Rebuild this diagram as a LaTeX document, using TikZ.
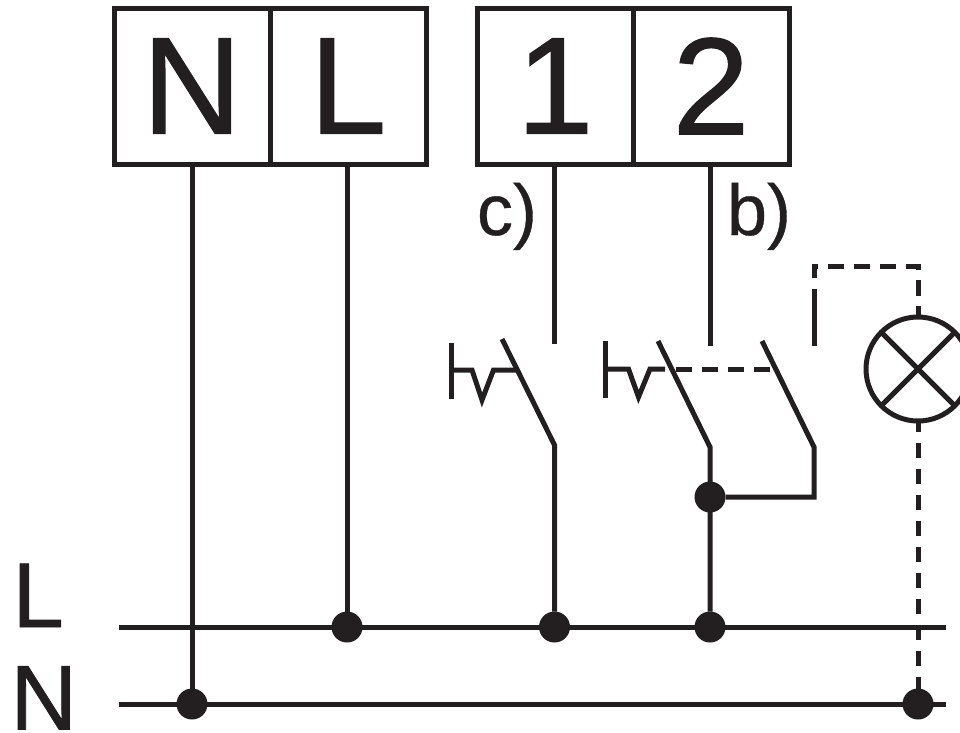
\documentclass[tikz,border=0pt]{standalone}
\usepackage{fontspec}
\setmainfont{Liberation Sans}
\newfontfamily\heavyfont[FakeBold=0.9]{Liberation Sans}
\newfontfamily\midfont[FakeBold=0.5]{Liberation Sans}
\definecolor{ink}{HTML}{231F20}
\tikzset{
  wire/.style={draw=ink,line width=5pt,line cap=butt,line join=miter},
  dashwire/.style={wire,dash pattern=on 15.5pt off 10.5pt},
  termbox/.style={draw=ink,line width=5pt,minimum width=156pt,minimum height=156pt,inner sep=0pt,outer sep=0pt,text=ink,font=\heavyfont\fontsize{138}{138}\selectfont},
  dotnode/.style={circle,fill=ink,draw=none,minimum size=31pt,inner sep=0pt,outer sep=0pt},
  biglabel/.style={text=ink,inner sep=0pt,outer sep=0pt,anchor=base west,font=\heavyfont\fontsize{92}{92}\selectfont},
  midlabel/.style={text=ink,inner sep=0pt,outer sep=0pt,anchor=base west,font=\midfont\fontsize{72}{72}\selectfont},
  lampnode/.style={circle,draw=ink,line width=5pt,minimum size=104pt,inner sep=0pt,outer sep=0pt}
}
\begin{document}
\begin{tikzpicture}[x=1pt,y=-1pt]
\useasboundingbox (0,0) rectangle (960,732);
\clip (0,0) rectangle (960,732);
% terminal blocks
\node[termbox] (tN) at (192,86) {N};
\node[termbox] (tL) at (348,86) {L};
\node[termbox] (t1) at (555,86) {1};
\node[termbox] (t2) at (711,86) {2};
% bus ends
\coordinate (LbusW) at (119,627);
\coordinate (LbusE) at (946,627);
\coordinate (NbusW) at (119,704);
\coordinate (NbusE) at (946,704);
% junctions
\node[dotnode] (dN)  at (192,704) {};
\node[dotnode] (dL)  at (347,627) {};
\node[dotnode] (d1)  at (554.5,627) {};
\node[dotnode] (d2)  at (710,627) {};
\node[dotnode] (dLamp) at (918,704) {};
\node[dotnode] (dSw) at (710,497) {};
% lamp
\node[lampnode] (lamp) at (918,369) {};
\draw[wire] (lamp.north west) -- (lamp.south east);
\draw[wire] (lamp.north east) -- (lamp.south west);
% buses
\draw[wire] (LbusW) -- (LbusE);
\draw[wire] (NbusW) -- (NbusE);
% feeders
\draw[wire] (dN |- tN.south) -- (dN);
\draw[wire] (dL |- tL.south) -- (dL);
% switch c
\coordinate (c1) at (554.5,344);
\coordinate (c1b) at (554.5,445);
\coordinate (c1t) at (502,339);
\draw[wire] (d1 |- t1.south) -- (c1);
\draw[wire] (c1t) -- (c1b) -- (d1);
\draw[wire] (451,343) -- (451,399);
\draw[wire] (451,370) -- (472,370) -- (482,400) -- (493.5,370) -- (516,370);
% switch b
\coordinate (c2) at (710,346);
\coordinate (c2b) at (710,447);
\coordinate (c2t) at (658,341);
\draw[wire] (d2 |- t2.south) -- (c2);
\draw[wire] (c2t) -- (c2b) -- (d2);
\draw[wire] (605.5,341) -- (605.5,398);
\draw[wire] (605.5,369) -- (628.5,369) -- (638.5,397) -- (650,369) -- (665,369);
% second pole
\coordinate (c3t) at (762,341);
\coordinate (c3b) at (814,447);
\draw[wire] (c3t) -- (c3b) -- (814,497) -- (dSw);
% mechanical link
\draw[dashwire] (676,369) -- (770,369);
% lamp branch
\draw[wire] (814,346) -- (814,289);
\draw[dashwire,dash phase=0pt] (814,278) -- (814,266) -- (918,266) -- (lamp.north);
\draw[dashwire,dash phase=4.5pt] (lamp.south) -- (dLamp);
% labels
\node[biglabel] (lblL) at (12.5,627) {L};
\node[biglabel] (lblN) at (10.5,729.5) {N};
\node[midlabel] (lblc) at (477,235) {c)};
\node[midlabel] (lblb) at (727,235) {b)};
\end{tikzpicture}
\end{document}
